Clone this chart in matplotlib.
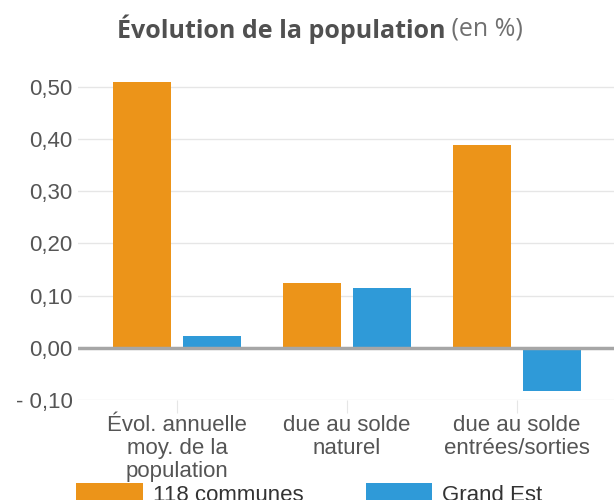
import matplotlib
matplotlib.use("Agg")
import matplotlib.pyplot as plt
import numpy as np

categories = ["Évol. annuelle\nmoy. de la\npopulation",
              "due au solde\nnaturel",
              "due au solde\nentrées/sorties"]
communes = [0.51, 0.124, 0.388]
grand_est = [0.023, 0.114, -0.083]
series_names = ["118 communes", "Grand Est"]
yticks = [-0.1, 0.0, 0.1, 0.2, 0.3, 0.4, 0.5]
ytick_labels = ["- 0,10", "0,00", "0,10", "0,20", "0,30", "0,40", "0,50"]

orange = "#ec9419"
blue = "#2f9ad8"

W, H = 614, 500
fig = plt.figure(figsize=(W / 100, H / 100), dpi=100)
# plot area in pixels: left 78, right 614, top 70, bottom 400
ax = fig.add_axes([78 / W, 1 - 400 / H, (614 - 78) / W, (400 - 70) / H])

x = np.arange(len(categories))
off = 0.206
bw = 0.34
ax.bar(x - off, communes, bw, color=orange, label=series_names[0], zorder=2)
ax.bar(x + off, grand_est, bw, color=blue, label=series_names[1], zorder=2)

ax.set_xlim(-0.582, 2.57)
ax.set_ylim(-0.1, 0.5 + 17 * 0.1 / 52.2)
ax.set_yticks(yticks)
ax.set_yticklabels(ytick_labels)
ax.grid(axis="y", color="#e6e6e6", linewidth=1, zorder=0)
ax.axhline(0, color="#a6a6a6", linewidth=2.5, zorder=3)
for s in ax.spines.values():
    s.set_visible(False)
ax.tick_params(axis="y", length=0, pad=4, labelsize=16, labelcolor="#555555")
ax.set_xticks(x)
ax.set_xticklabels(categories, linespacing=1.12)
ax.tick_params(axis="x", length=9, color="#e6e6e6", pad=2,
               labelsize=16, labelcolor="#555555")
for lab in ax.get_xticklabels() + ax.get_yticklabels():
    lab.set_family(["Liberation Sans", "DejaVu Sans"])

leg = fig.legend(loc="upper left", bbox_to_anchor=(76 / W, 1 - 483 / H),
                 ncol=2, frameon=False, handlelength=3.0,
                 handleheight=1.1, columnspacing=2.8, handletextpad=0.45,
                 borderpad=0, borderaxespad=0,
                 prop={"family": "Liberation Sans", "size": 16})
for t in leg.get_texts():
    t.set_color("#333333")

# title: bold part + normal part, centred together
t1 = fig.text(0, 1 - 29 / H, "Évolution de la population", fontsize=18,
              fontweight="bold", color="#505050", family="Open Sans",
              va="center")
t2 = fig.text(0, 1 - 29 / H, " (en %)", fontsize=18, color="#707070",
              family="Open Sans", va="center")
fig.canvas.draw()
r = fig.canvas.get_renderer()
w1 = t1.get_window_extent(r).width
w2 = t2.get_window_extent(r).width
start = 320 - (w1 + w2) / 2
t1.set_x(start / W)
t2.set_x((start + w1) / W)

fig.savefig("out.png", dpi=100)
